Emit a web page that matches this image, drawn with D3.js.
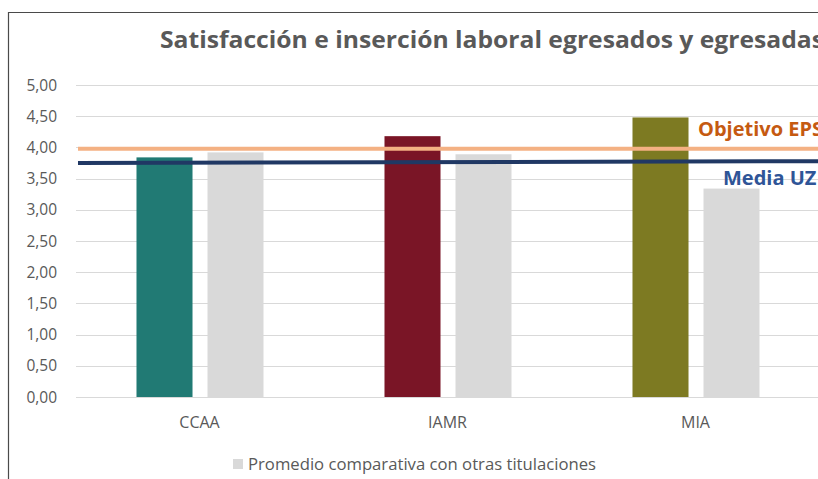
<!DOCTYPE html>
<html>
<head>
<meta charset="utf-8">
<script src="https://cdn.jsdelivr.net/npm/d3@7"></script>
<style>
  body { margin: 0; background: #fff; overflow: hidden; }
  text { font-family: "Open Sans", sans-serif; }
</style>
</head>
<body>
<div class="chart"></div>
<script>
// data
var categories = ["CCAA", "IAMR", "MIA"];
var titulacion = [3.84, 4.18, 4.48];
var promedio = [3.92, 3.89, 3.34];
var barColors = ["#217a74", "#7a1526", "#7d7a22"];
var yTicks = [0, 0.5, 1, 1.5, 2, 2.5, 3, 3.5, 4, 4.5, 5];
var objetivoEPS = [3.98, 3.98];
var mediaUZ = [3.75, 3.78];

var svgWidth = 818;
var svgHeight = 479;

var svg = d3.select(".chart")
  .append("svg")
  .attr("width", svgWidth)
  .attr("height", svgHeight);

// frame (chart is cropped on the right)
svg.append("path")
  .attr("d", "M8.5,479 L8.5,12.5 L818,12.5")
  .attr("fill", "none")
  .attr("stroke", "#4a4a4a")
  .attr("stroke-width", 1.2);

// scales
var xScale = d3.scaleBand()
  .domain(categories)
  .range([76, 820]);

var xInner = d3.scaleBand()
  .domain(["tit", "prom"])
  .range([0, xScale.bandwidth()])
  .paddingInner(0.211)
  .paddingOuter(0.852);

var yScale = d3.scaleLinear()
  .domain([0, 5])
  .range([397, 85]);

var xLine = d3.scaleLinear()
  .domain([0, 1])
  .range([78, 820]);

// gridlines
svg.append("g")
  .selectAll("line")
  .data(yTicks)
  .enter()
  .append("line")
  .attr("x1", 76)
  .attr("x2", 820)
  .attr("y1", d => Math.round(yScale(d)) + 0.5)
  .attr("y2", d => Math.round(yScale(d)) + 0.5)
  .attr("stroke", "#d9d9d9")
  .attr("stroke-width", 1);

// y labels
svg.append("g")
  .selectAll("text")
  .data(yTicks)
  .enter()
  .append("text")
  .attr("x", 57)
  .attr("y", d => yScale(d) + 5.5)
  .attr("text-anchor", "end")
  .attr("font-size", 15.5)
  .attr("fill", "#595959")
  .text(d => d3.format(".2f")(d).replace(".", ","));

// bars
var groups = svg.append("g")
  .selectAll("g")
  .data(categories)
  .enter()
  .append("g")
  .attr("transform", d => `translate(${xScale(d)},0)`);

groups.append("rect")
  .attr("x", xInner("tit"))
  .attr("width", xInner.bandwidth())
  .attr("y", (d, i) => yScale(titulacion[i]))
  .attr("height", (d, i) => yScale(0) - yScale(titulacion[i]))
  .attr("fill", (d, i) => barColors[i]);

groups.append("rect")
  .attr("x", xInner("prom"))
  .attr("width", xInner.bandwidth())
  .attr("y", (d, i) => yScale(promedio[i]))
  .attr("height", (d, i) => yScale(0) - yScale(promedio[i]))
  .attr("fill", "#d9d9d9");

// category labels
groups.append("text")
  .attr("x", xScale.bandwidth() / 2 - 0.5)
  .attr("y", 428)
  .attr("text-anchor", "middle")
  .attr("font-size", 16)
  .attr("fill", "#595959")
  .text(d => d);

// reference lines
var line = d3.line()
  .x((d, i) => xLine(i))
  .y(d => yScale(d));

svg.append("path")
  .datum(objetivoEPS)
  .attr("d", line)
  .attr("fill", "none")
  .attr("stroke", "#f4b183")
  .attr("stroke-width", 4);

svg.append("path")
  .datum(mediaUZ)
  .attr("d", line)
  .attr("fill", "none")
  .attr("stroke", "#203864")
  .attr("stroke-width", 4);

svg.append("text")
  .attr("x", 698)
  .attr("y", 136)
  .attr("font-size", 20)
  .attr("font-weight", "bold")
  .attr("fill", "#c55a11")
  .text("Objetivo EPS");

svg.append("text")
  .attr("x", 723)
  .attr("y", 185)
  .attr("font-size", 20)
  .attr("font-weight", "bold")
  .attr("fill", "#2f5597")
  .text("Media UZ");

// title
svg.append("text")
  .attr("x", 160)
  .attr("y", 48)
  .attr("font-size", 24)
  .attr("font-weight", "bold")
  .attr("fill", "#595959")
  .attr("textLength", 664)
  .attr("lengthAdjust", "spacingAndGlyphs")
  .text("Satisfacción e inserción laboral egresados y egresadas");

// legend
svg.append("rect")
  .attr("x", 233)
  .attr("y", 459)
  .attr("width", 10)
  .attr("height", 10)
  .attr("fill", "#d9d9d9");

svg.append("text")
  .attr("x", 248)
  .attr("y", 470)
  .attr("font-size", 16)
  .attr("fill", "#595959")
  .attr("textLength", 348)
  .attr("lengthAdjust", "spacingAndGlyphs")
  .text("Promedio comparativa con otras titulaciones");
</script>
</body>
</html>
